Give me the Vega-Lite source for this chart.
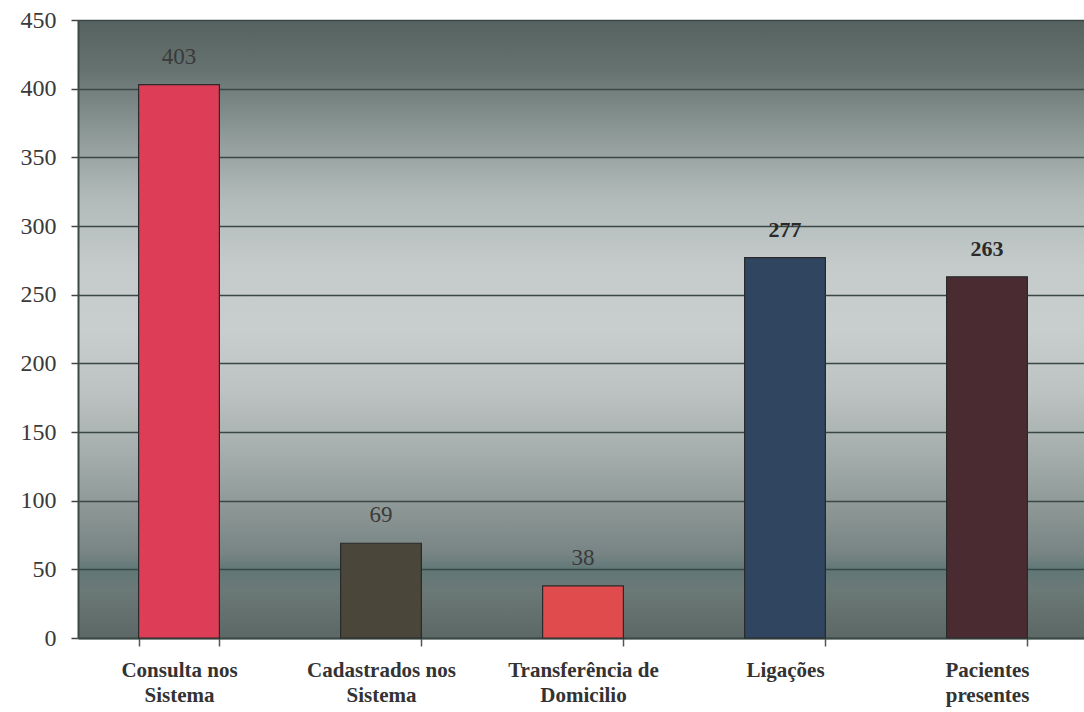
{
  "$schema": "https://vega.github.io/schema/vega-lite/v6.json",
  "autosize": "none",
  "width": 1010,
  "height": 618,
  "padding": {"left": 78, "top": 20, "right": 0, "bottom": 74},
  "background": "#ffffff",
  "view": {
    "stroke": null,
    "fill": {
      "gradient": "linear", "x1": 0, "y1": 0, "x2": 0, "y2": 1,
      "stops": [
        {"offset": 0, "color": "#56625f"},
        {"offset": 0.08, "color": "#66726f"},
        {"offset": 0.18, "color": "#8c9896"},
        {"offset": 0.29, "color": "#b2bbba"},
        {"offset": 0.40, "color": "#c4cbca"},
        {"offset": 0.50, "color": "#c8cece"},
        {"offset": 0.60, "color": "#bcc3c2"},
        {"offset": 0.70, "color": "#a5aeac"},
        {"offset": 0.80, "color": "#8a9593"},
        {"offset": 0.865, "color": "#768483"},
        {"offset": 0.89, "color": "#5f7776"},
        {"offset": 0.92, "color": "#6b7977"},
        {"offset": 1, "color": "#5c6865"}
      ]
    }
  },
  "data": {
    "values": [
      {"categoria": "Consulta nos|Sistema", "valor": 403, "cor": "#dd3d56", "negrito": "nao"},
      {"categoria": "Cadastrados nos|Sistema", "valor": 69, "cor": "#4b463a", "negrito": "nao"},
      {"categoria": "Transferência de|Domicilio", "valor": 38, "cor": "#e04b4e", "negrito": "nao"},
      {"categoria": "Ligações", "valor": 277, "cor": "#2f4560", "negrito": "sim"},
      {"categoria": "Pacientes|presentes", "valor": 263, "cor": "#4a2b31", "negrito": "sim"}
    ]
  },
  "encoding": {
    "x": {
      "field": "categoria", "type": "nominal", "sort": null,
      "scale": {"paddingInner": 0.6, "paddingOuter": 0.3},
      "axis": {
        "title": null, "labelAngle": 0,
        "labelExpr": "split(datum.label, '|')",
        "labelFont": "Liberation Serif", "labelFontSize": 21, "labelFontWeight": "bold",
        "labelColor": "#333333", "labelLineHeight": 25, "labelPadding": 13,
        "labelBaseline": "top",
        "tickBand": "extent", "tickSize": 8, "tickColor": "#555555", "tickWidth": 1.5,
        "domainColor": "#3c4a46", "domainWidth": 2
      }
    },
    "y": {
      "field": "valor", "type": "quantitative",
      "scale": {"domain": [0, 450], "nice": false},
      "axis": {
        "title": null, "values": [0, 50, 100, 150, 200, 250, 300, 350, 400, 450],
        "labelFont": "Liberation Serif", "labelFontSize": 24, "labelColor": "#3a3a3a",
        "labelPadding": 15, "tickSize": 7, "tickColor": "#444444", "tickWidth": 1.5,
        "domainColor": "#3c4a46", "domainWidth": 2,
        "grid": true, "gridColor": "#3a4845", "gridWidth": 1.6
      }
    }
  },
  "layer": [
    {
      "mark": {"type": "bar", "stroke": "#2a2a2a", "strokeWidth": 1.2},
      "encoding": {"color": {"field": "cor", "type": "nominal", "scale": null, "legend": null}}
    },
    {
      "transform": [{"filter": "datum.negrito == 'nao'"}],
      "mark": {"type": "text", "baseline": "bottom", "dy": -16, "font": "Liberation Serif", "fontSize": 23, "color": "#3a3a3a"},
      "encoding": {"text": {"field": "valor", "type": "quantitative"}}
    },
    {
      "transform": [{"filter": "datum.negrito == 'sim'"}],
      "mark": {"type": "text", "baseline": "bottom", "dy": -16, "font": "Liberation Serif", "fontSize": 22, "fontWeight": "bold", "color": "#2a2a2a"},
      "encoding": {"text": {"field": "valor", "type": "quantitative"}}
    }
  ]
}
